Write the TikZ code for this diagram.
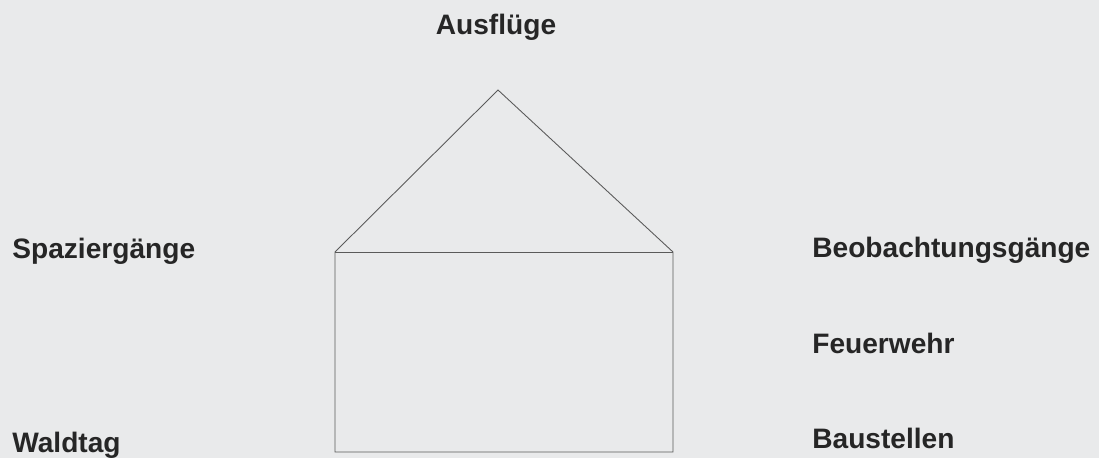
\documentclass[tikz,border=0pt]{standalone}
\usepackage{fontspec}
\setmainfont{Liberation Sans}
\usepackage{tikz}
\usetikzlibrary{positioning}
\usepackage[svgnames]{xcolor}

\definecolor{scanpaper}{HTML}{E9EAEB}
\definecolor{pencil}{HTML}{5A5A5A}
\definecolor{ink}{HTML}{262626}

\begin{document}
\begin{tikzpicture}[x=0.02cm, y=-0.02cm]

% --- page ---
\fill [scanpaper] (0,0) rectangle (1099,458);
\useasboundingbox (0,0) rectangle (1099,458);

\tikzset{
    topic/.style={
        anchor=base west,
        inner sep=0pt,
        text=ink,
        font=\fontsize{16}{19}\selectfont\bfseries,
    },
}

% --- house ---
\coordinate (roofleft) at (335,252);
\coordinate (roofright) at (673,252);
\coordinate (apex) at (498,90);
\coordinate (floorleft) at (335,452);
\coordinate (floorright) at (673,452);

\draw [pencil, line width=0.5pt]
    (floorleft) -- (roofleft) -- (apex) -- (roofright) -- (floorright) -- cycle;
\draw [pencil, line width=0.5pt] (roofleft) -- (roofright);

% --- labels ---
\node [
    topic,
    anchor=base,
] (ausfluege) at (496,34) {Ausflüge};

\node [
    topic,
] (spaziergaenge) at (12,258) {Spaziergänge};

\node [
    topic,
] (waldtag) at (12,452) {Waldtag};

\node [
    topic,
] (beobachtung) at (812,257) {Beobachtungsgänge};

\node [
    topic,
] (feuerwehr) at (812,353) {Feuerwehr};

\node [
    topic,
] (baustellen) at (812,448) {Baustellen};

\end{tikzpicture}
\end{document}
